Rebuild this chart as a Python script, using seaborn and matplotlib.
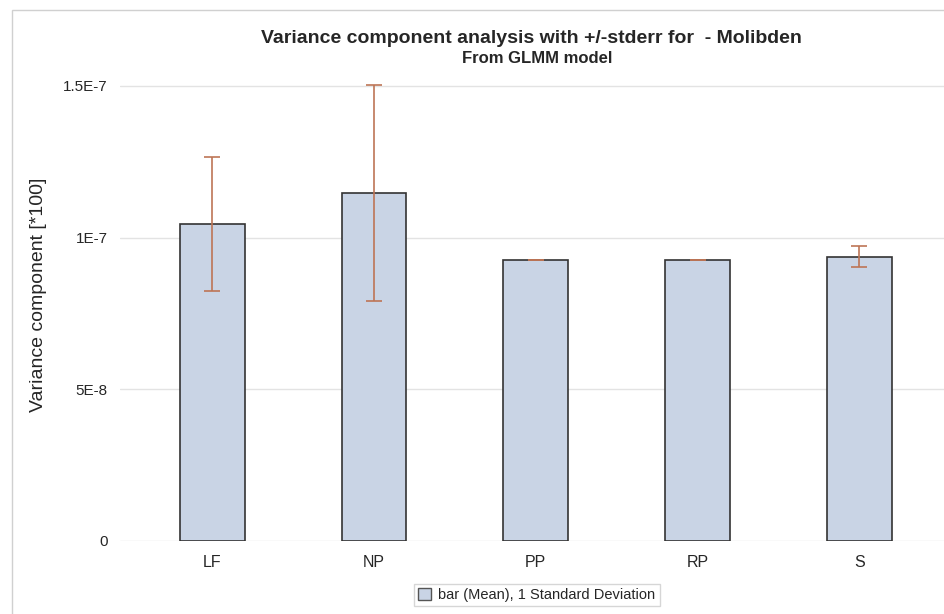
import pandas as pd
import seaborn as sns
import matplotlib.pyplot as plt
import matplotlib.patches as mpatches

# values
categories = ["LF", "NP", "PP", "RP", "S"]
means = [1.045e-7, 1.147e-7, 0.926e-7, 0.926e-7, 0.937e-7]
stderr = [0.221e-7, 0.357e-7, 0.001e-7, 0.001e-7, 0.035e-7]
yticks = [0, 5e-8, 1e-7, 1.5e-7]
ytick_labels = ["0", "5E-8", "1E-7", "1.5E-7"]

df = pd.DataFrame({"group": categories, "mean": means, "err": stderr})

sns.set_style("white")
plt.rcParams["font.family"] = ["Liberation Sans", "DejaVu Sans"]

bar_color = "#c9d4e5"
err_color = "#bd7556"

fig = plt.figure(figsize=(9.45, 6.14), dpi=100)
ax = fig.add_axes([0.127, 0.119, 0.873, 0.759])

sns.barplot(data=df, x="group", y="mean", color=bar_color, saturation=1, width=0.4,
            edgecolor="#333333", linewidth=1.2, errorbar=None, ax=ax, zorder=3)
ax.errorbar(x=range(len(df)), y=df["mean"], yerr=df["err"], fmt="none",
            ecolor=err_color, elinewidth=1.2, capsize=6, capthick=1.2, zorder=4)

ax.set_xlim(-0.57, 4.53)
ax.set_ylim(0, 1.536e-7)
ax.set_yticks(yticks)
ax.set_yticklabels(ytick_labels)
ax.grid(axis="y", color="#e3e3e3", linewidth=1, zorder=0)
ax.set_axisbelow(True)
for s in ax.spines.values():
    s.set_visible(False)
ax.tick_params(axis="y", length=6, color="#aaaaaa", labelsize=11, pad=3)
ax.tick_params(axis="x", length=0, labelsize=11.5, pad=10)
ax.set_xlabel("")
ax.set_ylabel("Variance component [*100]", fontsize=14)
ax.yaxis.set_label_coords(-0.088, 0.528)

fig.text(0.562, 0.937, "Variance component analysis with +/-stderr for  - Molibden",
         ha="center", va="center", fontsize=14, fontweight="bold")
fig.text(0.568, 0.905, "From GLMM model", ha="center", va="center",
         fontsize=12, fontweight="bold")

handle = mpatches.Patch(facecolor=bar_color, edgecolor="#555555",
                        label="bar (Mean), 1 Standard Deviation")
fig.legend(handles=[handle], loc="center", bbox_to_anchor=(0.568, 0.031),
           fontsize=10.5, frameon=True, edgecolor="#cccccc", fancybox=False,
           handlelength=0.9, handleheight=0.9, handletextpad=0.5,
           borderpad=0.3)

# thin outer frame
fig.patches.append(mpatches.Rectangle((12 / 945, -0.05), 1.1, 1 - 10 / 614 + 0.05,
                                      transform=fig.transFigure, fill=False,
                                      edgecolor="#d0d0d0", linewidth=1))

fig.savefig("out.png", dpi=100)
